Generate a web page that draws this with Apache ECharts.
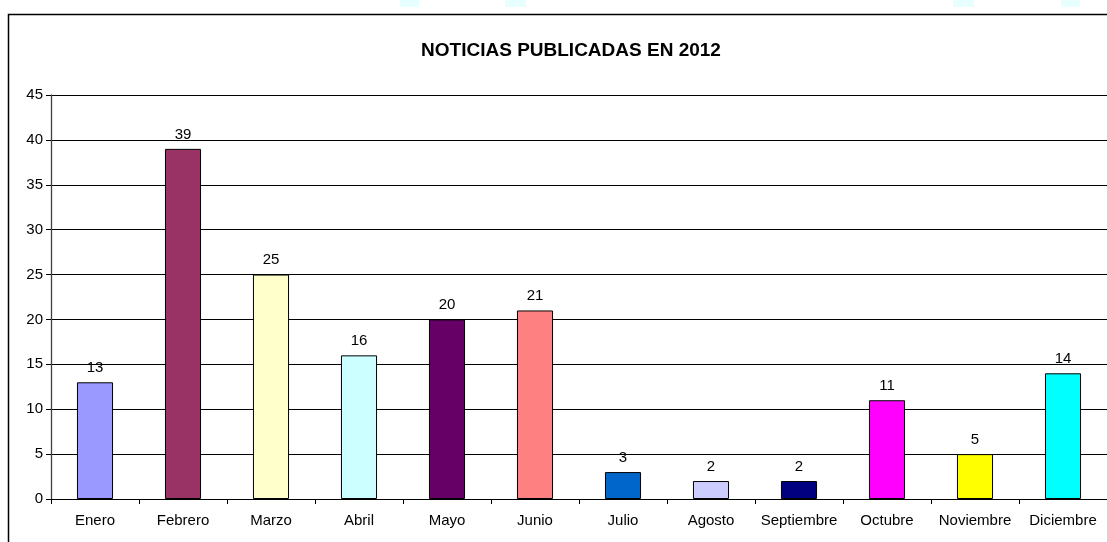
<!DOCTYPE html>
<html>
<head>
<meta charset="utf-8">
<script src="https://cdn.jsdelivr.net/npm/echarts@6/dist/echarts.min.js"></script>
<style>
html,body{margin:0;padding:0;background:#fff;}
#chart{width:1107px;height:542px;}
</style>
</head>
<body>
<div id="chart"></div>
<script>
const categories = ['Enero','Febrero','Marzo','Abril','Mayo','Junio','Julio','Agosto','Septiembre','Octubre','Noviembre','Diciembre'];
const values = [13, 39, 25, 16, 20, 21, 3, 2, 2, 11, 5, 14];
const barColors = ['#9999FF','#993366','#FFFFCC','#CCFFFF','#660066','#FF8080','#0066CC','#CCCCFF','#000080','#FF00FF','#FFFF00','#00FFFF'];
const titleText = 'NOTICIAS PUBLICADAS EN 2012';

const chart = echarts.init(document.getElementById('chart'));
const font = 'Liberation Sans, Arial, sans-serif';
chart.setOption({
  backgroundColor: '#ffffff',
  animation: false,
  title: {
    text: titleText,
    left: 566, top: 36, textAlign: 'center',
    textStyle: {fontFamily: font, fontWeight: 'bold', fontSize: 19, color: '#000'}
  },
  graphic: [
    {type:'rect', shape:{x:8.5, y:14.5, width:1300, height:700}, style:{fill:'none', stroke:'#000', lineWidth:1.5}, silent:true},
    {type:'rect', shape:{x:400, y:0, width:19, height:7}, style:{fill:'#E8FFFF'}, silent:true},
    {type:'rect', shape:{x:505, y:0, width:21, height:7}, style:{fill:'#E8FFFF'}, silent:true},
    {type:'rect', shape:{x:953, y:0, width:21, height:7}, style:{fill:'#E8FFFF'}, silent:true},
    {type:'rect', shape:{x:1061, y:0, width:19, height:7}, style:{fill:'#E8FFFF'}, silent:true}
  ],
  grid: {left: 51, right: 0, top: 95, bottom: 43, containLabel: false},
  xAxis: {
    type: 'category',
    data: categories,
    boundaryGap: true,
    axisLine: {show: true, lineStyle: {color: '#000', width: 1}},
    axisTick: {show: true, length: 5, lineStyle: {color: '#000'}},
    axisLabel: {fontFamily: font, fontSize: 15, color: '#000', margin: 14, interval: 0}
  },
  yAxis: {
    type: 'value',
    min: 0, max: 45, interval: 5,
    axisLine: {show: true, lineStyle: {color: '#404040', width: 1.3}},
    axisTick: {show: true, length: 5, lineStyle: {color: '#000'}},
    axisLabel: {fontFamily: font, fontSize: 15, color: '#000', margin: 8},
    splitLine: {show: true, lineStyle: {color: '#000', width: 1}}
  },
  series: [{
    type: 'bar',
    barWidth: '41%',
    data: values.map((v, i) => ({value: v, itemStyle: {color: barColors[i]}})),
    itemStyle: {borderColor: '#000', borderWidth: 1},
    label: {show: true, position: 'top', distance: 7, fontFamily: font, fontSize: 15, color: '#000'}
  }]
});
</script>
</body>
</html>
